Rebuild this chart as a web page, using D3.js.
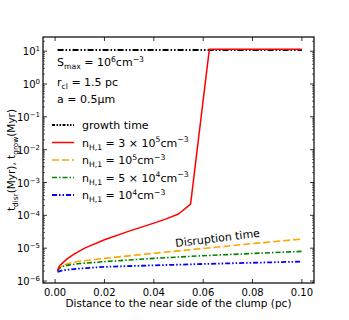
<!DOCTYPE html>
<html>
<head>
<meta charset="utf-8">
<script src="https://cdn.jsdelivr.net/npm/d3@7"></script>
<style>
  body { margin: 0; background: #fff; }
  text { font-family: "DejaVu Sans", sans-serif; fill: #000; }
</style>
</head>
<body>
<svg id="chart" width="349" height="320"></svg>
<script>
// values
var growthX = [0.001, 0.1];
var growthY = [10.8, 10.8];

var redX = [0.001, 0.0013, 0.0017, 0.0022, 0.003, 0.004, 0.005, 0.008, 0.012, 0.02, 0.03, 0.04, 0.045, 0.05, 0.0549, 0.0625, 0.07, 0.08, 0.09, 0.1];
var redY = [2.0e-6, 2.4e-6, 2.8e-6, 3.1e-6, 3.5e-6, 4.1e-6, 4.8e-6, 6.8e-6, 1.0e-5, 1.8e-5, 3.3e-5, 5.8e-5, 7.8e-5, 1.1e-4, 2.2e-4, 11.5, 11.5, 11.5, 11.5, 11.5];

var orangeX = [0.001, 0.0015, 0.002, 0.003, 0.004, 0.006, 0.01, 0.02, 0.04, 0.06, 0.08, 0.1];
var orangeY = [2.0e-6, 2.4e-6, 2.7e-6, 3.0e-6, 3.2e-6, 3.5e-6, 4.0e-6, 4.9e-6, 7.0e-6, 9.8e-6, 1.38e-5, 1.9e-5];

var greenX = [0.001, 0.0015, 0.002, 0.003, 0.004, 0.006, 0.01, 0.02, 0.04, 0.06, 0.08, 0.1];
var greenY = [2.0e-6, 2.3e-6, 2.5e-6, 2.75e-6, 2.9e-6, 3.1e-6, 3.4e-6, 3.9e-6, 4.9e-6, 5.9e-6, 6.9e-6, 8.0e-6];

var blueX = [0.001, 0.002, 0.003, 0.005, 0.01, 0.02, 0.04, 0.06, 0.08, 0.1];
var blueY = [1.9e-6, 2.0e-6, 2.1e-6, 2.2e-6, 2.4e-6, 2.7e-6, 3.0e-6, 3.3e-6, 3.6e-6, 3.9e-6];

var xTicks = [0, 0.02, 0.04, 0.06, 0.08, 0.1];
var yTickExp = [1, 0, -1, -2, -3, -4, -5, -6];

var svg = d3.select('#chart');
var margin = {left: 43, right: 35, top: 37, bottom: 37};
var width = 349 - margin.left - margin.right,
    height = 320 - margin.top - margin.bottom;

var x = d3.scaleLinear().domain([-0.0049, 0.1049]).range([0, width]);
var y = d3.scaleLog().domain([8.7e-7, 27]).range([height, 0]);

var g = svg.append('g').attr('transform', 'translate(' + margin.left + ',' + margin.top + ')');

// writes math-ish text made of plain / sub / sup pieces
function richText(sel, parts, size) {
    sel.style('font-size', size + 'px');
    var shift = 0;
    parts.forEach(function (p) {
        var want = p.sub ? size * 0.28 : (p.sup ? -size * 0.38 : 0);
        sel.append('tspan')
            .attr('dy', want - shift)
            .style('font-size', (p.sub || p.sup) ? (size * 0.7) + 'px' : size + 'px')
            .text(p.t);
        shift = want;
    });
}

// ticks, inward on all sides
var minor = [];
for (var e = -7; e <= 1; e++) {
    for (var m = 2; m <= 9; m++) {
        var v = m * Math.pow(10, e);
        if (v >= y.domain()[0] && v <= y.domain()[1]) minor.push(v);
    }
}
var ticks = g.append('g').attr('stroke', '#000');
minor.forEach(function (v) {
    ticks.append('line').attr('x1', 0).attr('x2', 2).attr('y1', y(v)).attr('y2', y(v)).attr('stroke-width', 0.6);
    ticks.append('line').attr('x1', width).attr('x2', width - 2).attr('y1', y(v)).attr('y2', y(v)).attr('stroke-width', 0.6);
});
yTickExp.forEach(function (e) {
    var v = Math.pow(10, e);
    ticks.append('line').attr('x1', 0).attr('x2', 4).attr('y1', y(v)).attr('y2', y(v)).attr('stroke-width', 0.8);
    ticks.append('line').attr('x1', width).attr('x2', width - 4).attr('y1', y(v)).attr('y2', y(v)).attr('stroke-width', 0.8);
    var t = g.append('text').attr('x', -3).attr('y', y(v) + 4).attr('text-anchor', 'end');
    richText(t, [{t: '10'}, {t: (e < 0 ? '\u2212' : '') + Math.abs(e), sup: 1}], 10);
});
xTicks.forEach(function (v) {
    ticks.append('line').attr('x1', x(v)).attr('x2', x(v)).attr('y1', height).attr('y2', height - 4).attr('stroke-width', 0.8);
    ticks.append('line').attr('x1', x(v)).attr('x2', x(v)).attr('y1', 0).attr('y2', 4).attr('stroke-width', 0.8);
    g.append('text').attr('x', x(v)).attr('y', height + 13).attr('text-anchor', 'middle')
        .style('font-size', '10px').text(d3.format('.2f')(v));
});

// curves
var line = d3.line()
    .x(function (d) { return x(d[0]); })
    .y(function (d) { return y(d[1]); });

var series = [
    {xs: growthX, ys: growthY, color: '#000', dash: '6,2,1.5,2,1.5,2', w: 2},
    {xs: orangeX, ys: orangeY, color: 'orange', dash: '7,3', w: 1.6},
    {xs: greenX, ys: greenY, color: 'green', dash: '5,2,1.5,2', w: 1.6},
    {xs: blueX, ys: blueY, color: 'blue', dash: '5,2,1.5,2,1.5,2', w: 1.8},
    {xs: redX, ys: redY, color: 'red', dash: null, w: 1.5}
];
series.forEach(function (s) {
    g.append('path')
        .datum(s.xs.map(function (v, i) { return [v, s.ys[i]]; }))
        .attr('d', line)
        .attr('fill', 'none')
        .attr('stroke', s.color)
        .attr('stroke-width', s.w)
        .attr('stroke-linejoin', 'round')
        .attr('stroke-dasharray', s.dash);
});

// frame
g.append('rect').attr('width', width).attr('height', height)
    .attr('fill', 'none').attr('stroke', '#000').attr('stroke-width', 1.2);

// annotations
var a1 = g.append('text').attr('x', 14).attr('y', 29);
richText(a1, [{t: 'S'}, {t: 'max', sub: 1}, {t: ' = 10'}, {t: '6', sup: 1}, {t: 'cm'}, {t: '\u22123', sup: 1}], 11);
var a2 = g.append('text').attr('x', 14).attr('y', 49);
richText(a2, [{t: 'r'}, {t: 'cl', sub: 1}, {t: ' = 1.5 pc'}], 11);
var a3 = g.append('text').attr('x', 14).attr('y', 66);
richText(a3, [{t: 'a = 0.5\u03bcm'}], 11);

// legend
var legendItems = [
    {color: '#000', dash: '3,1.5,1.5,1.5,1.5,1.5', w: 2, parts: [{t: 'growth time'}]},
    {color: 'red', dash: null, w: 1.5, parts: [{t: 'n'}, {t: 'H,1', sub: 1}, {t: ' = 3 \u00d7 10'}, {t: '5', sup: 1}, {t: 'cm'}, {t: '\u22123', sup: 1}]},
    {color: 'orange', dash: '7,3', w: 1.6, parts: [{t: 'n'}, {t: 'H,1', sub: 1}, {t: ' = 10'}, {t: '5', sup: 1}, {t: 'cm'}, {t: '\u22123', sup: 1}]},
    {color: 'green', dash: '5,2,1.5,2', w: 1.6, parts: [{t: 'n'}, {t: 'H,1', sub: 1}, {t: ' = 5 \u00d7 10'}, {t: '4', sup: 1}, {t: 'cm'}, {t: '\u22123', sup: 1}]},
    {color: 'blue', dash: '5,2,1.5,2,1.5,2', w: 1.8, parts: [{t: 'n'}, {t: 'H,1', sub: 1}, {t: ' = 10'}, {t: '4', sup: 1}, {t: 'cm'}, {t: '\u22123', sup: 1}]}
];
legendItems.forEach(function (it, i) {
    var ly = 88 + i * 17.5;
    g.append('line').attr('x1', 9).attr('x2', 31).attr('y1', ly).attr('y2', ly)
        .attr('stroke', it.color).attr('stroke-width', it.w).attr('stroke-dasharray', it.dash);
    var t = g.append('text').attr('x', 39).attr('y', ly + 4);
    richText(t, it.parts, 11);
});

g.append('text')
    .attr('transform', 'translate(' + x(0.066) + ',' + y(1.55e-5) + ') rotate(-7)')
    .attr('text-anchor', 'middle')
    .style('font-size', '11px')
    .text('Disruption time');

// axis titles
svg.append('text')
    .attr('x', margin.left + width / 2).attr('y', 307)
    .attr('text-anchor', 'middle').style('font-size', '10.5px')
    .text('Distance to the near side of the clump (pc)');

var yl = svg.append('text')
    .attr('transform', 'translate(15,' + (margin.top + height / 2) + ') rotate(-90)')
    .attr('text-anchor', 'middle');
richText(yl, [{t: 't'}, {t: 'disr', sub: 1}, {t: '(Myr), t'}, {t: 'grow', sub: 1}, {t: '(Myr)'}], 10.5);
</script>
</body>
</html>
